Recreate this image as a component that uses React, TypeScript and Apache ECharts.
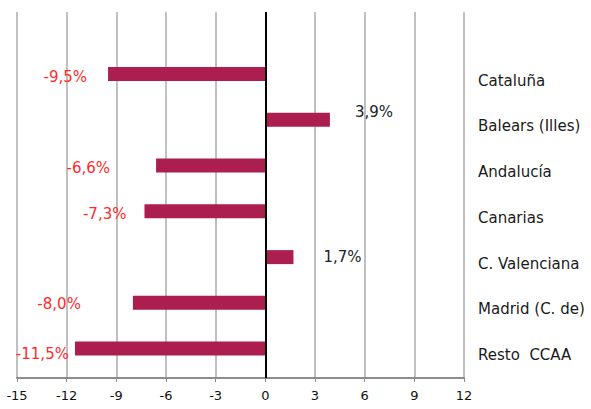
import React, { useEffect, useRef } from "react";
import * as echarts from "echarts";

const regions = ["Cataluña", "Balears (Illes)", "Andalucía", "Canarias", "C. Valenciana", "Madrid (C. de)", "Resto  CCAA"];
const values = [-9.5, 3.9, -6.6, -7.3, 1.7, -8.0, -11.5];
const valueLabels = ["-9,5%", "3,9%", "-6,6%", "-7,3%", "1,7%", "-8,0%", "-11,5%"];

export default function App() {
  const ref = useRef<HTMLDivElement>(null);
  useEffect(() => {
    const chart = echarts.init(ref.current!, null, { renderer: "svg" });
    // label nudges [gap from bar end, vertical shift]
    const nudges: [number, number][] = [[21, 2.5], [25, -8], [46, 2.5], [18, 3], [30, 0], [52, 1.5], [6, 5.5]];
    const font = "DejaVu Sans";
    const cats = ["", ...regions];
    const barData: any[] = ["-", ...values.map((v, i) => {
      const neg = v < 0;
      const [gap, dy] = nudges[i];
      return {
        value: v,
        label: {
          show: true,
          position: neg ? "left" : "right",
          distance: 0,
          offset: [neg ? -gap : gap, dy],
          formatter: valueLabels[i],
          color: neg ? "#FF2B2B" : "#222222",
          fontSize: 15,
          fontFamily: font,
        },
      };
    })];
    chart.setOption({
      animation: false,
      grid: { left: 17, right: 127, top: 12, bottom: 31, containLabel: false },
      xAxis: {
        type: "value",
        min: -15,
        max: 12,
        interval: 3,
        axisLine: { show: true, onZero: false, lineStyle: { color: "#8c8c8c", width: 2 } },
        axisTick: { show: true, length: 4, lineStyle: { color: "#8c8c8c", width: 1 } },
        axisLabel: { color: "#111", fontSize: 13, fontFamily: font, margin: 11 },
        splitLine: { show: true, lineStyle: { color: "#c0c0c0", width: 2 } },
      },
      yAxis: {
        type: "category",
        data: cats,
        inverse: true,
        position: "right",
        axisLine: { show: false, onZero: false },
        axisTick: { show: false },
        splitLine: { show: false },
        axisLabel: { color: "#1a1a1a", fontSize: 15, fontFamily: font, align: "left", margin: 14 },
      },
      series: [
        {
          type: "bar",
          data: barData,
          barWidth: 14,
          barGap: "-7%",
          itemStyle: { color: "#AC1E4F" },
          markLine: {
            silent: true,
            symbol: "none",
            label: { show: false },
            lineStyle: { color: "#000", width: 2, type: "solid" },
            data: [{ xAxis: 0 }],
          },
        },
        {
          type: "bar",
          data: cats.map(() => "-"),
          barWidth: 14,
        },
      ],
    });
    return () => chart.dispose();
  }, []);
  return <div ref={ref} style={{ width: 591, height: 409, position: "absolute", left: 0, top: 0 }} />;
}
